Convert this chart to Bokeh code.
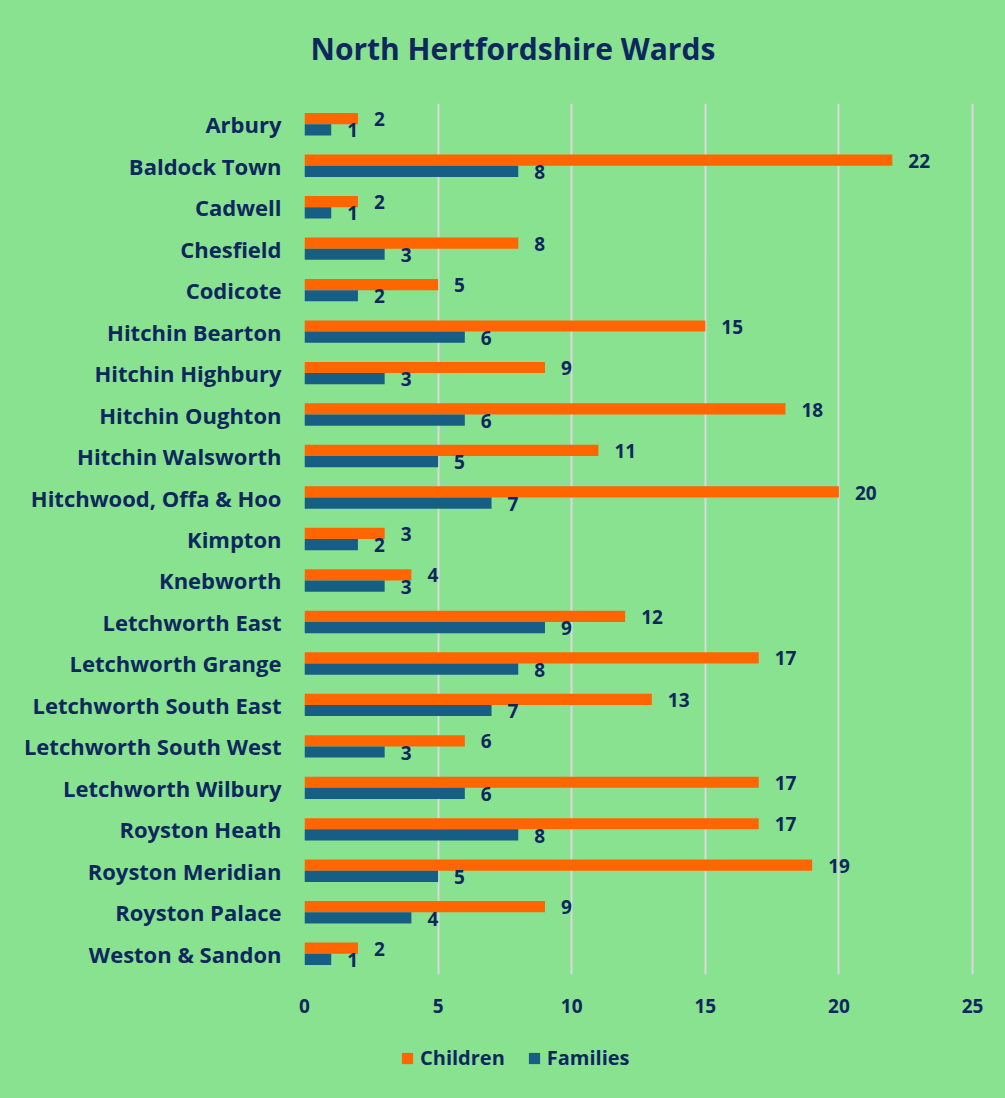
from bokeh.plotting import figure
from bokeh.layouts import column
from bokeh.models import ColumnDataSource, FactorRange, Range1d, Label, Legend, LegendItem, FixedTicker
from bokeh.transform import dodge
from bokeh.core.properties import value
from bokeh.embed import file_html
from bokeh.resources import INLINE

title_text = "North Hertfordshire Wards"
wards = ["Arbury", "Baldock Town", "Cadwell", "Chesfield", "Codicote",
         "Hitchin Bearton", "Hitchin Highbury", "Hitchin Oughton", "Hitchin Walsworth",
         "Hitchwood, Offa & Hoo", "Kimpton", "Knebworth", "Letchworth East",
         "Letchworth Grange", "Letchworth South East", "Letchworth South West",
         "Letchworth Wilbury", "Royston Heath", "Royston Meridian", "Royston Palace",
         "Weston & Sandon"]
children = [2, 22, 2, 8, 5, 15, 9, 18, 11, 20, 3, 4, 12, 17, 13, 6, 17, 17, 19, 9, 2]
families = [1, 8, 1, 3, 2, 6, 3, 6, 5, 7, 2, 3, 9, 8, 7, 3, 6, 8, 5, 4, 1]
x_ticks = [0, 5, 10, 15, 20, 25]
series = ["Children", "Families"]

BG = "#88e290"
NAVY = "#0e285e"
ORANGE = "#ff6600"
BLUE = "#175e85"
FONT = "Open Sans"

W = 1000
FL, FR = 304, 974          # frame left/right (pixels)
X_END = 25.075             # a little room so the last gridline is not clipped
H0, H1, H2 = 103, 927, 64   # title strip, chart, legend strip


def strip(h):
    f = figure(width=W, height=h, output_backend="svg", toolbar_location=None,
               x_axis_location=None, y_axis_location=None,
               min_border_left=FL, min_border_right=W - FR, min_border_top=0, min_border_bottom=0,
               x_range=Range1d(0, 1), y_range=Range1d(0, 1),
               background_fill_alpha=0, border_fill_alpha=0, outline_line_color=None)
    f.xgrid.visible = False
    f.ygrid.visible = False
    return f


# title strip
tf = strip(H0)
tf.add_layout(Label(x=6, y=H0 - 48, x_units="screen", y_units="screen", text=title_text,
                    text_color=NAVY, text_font=FONT, text_font_style="bold",
                    text_font_size="30px", text_baseline="middle", text_align="left"))

# main chart
src = ColumnDataSource(dict(ward=wards, children=children, families=families,
                            clab=[str(v) for v in children], flab=[str(v) for v in families]))

p = figure(width=W, height=H1, output_backend="svg", toolbar_location=None,
           y_range=FactorRange(factors=wards[::-1]), x_range=Range1d(0, X_END),
           min_border_left=FL, min_border_right=W - FR, min_border_top=0,
           min_border_bottom=H1 - 871,
           background_fill_alpha=0, border_fill_alpha=0, outline_line_color=None)

p.hbar(y=dodge("ward", 0.135, range=p.y_range), right="children", height=0.27,
       left=0, source=src, fill_color=ORANGE, line_color=None)
p.hbar(y=dodge("ward", -0.135, range=p.y_range), right="families", height=0.27,
       left=0, source=src, fill_color=BLUE, line_color=None)

p.text(x="children", y=dodge("ward", 0.12, range=p.y_range), text="clab", source=src,
       x_offset=16, text_align="left", text_baseline="middle", text_color=NAVY,
       text_font=value(FONT), text_font_style="bold", text_font_size="19px")
p.text(x="families", y=dodge("ward", -0.15, range=p.y_range), text="flab", source=src,
       x_offset=16, text_align="left", text_baseline="middle", text_color=NAVY,
       text_font=value(FONT), text_font_style="bold", text_font_size="19px")

p.xaxis.ticker = FixedTicker(ticks=x_ticks)
p.xgrid.ticker = FixedTicker(ticks=x_ticks)
p.xgrid.grid_line_color = "#d9d9d9"
p.xgrid.grid_line_width = 2
p.ygrid.grid_line_color = None

for ax in (p.xaxis[0], p.yaxis[0]):
    ax.axis_line_color = None
    ax.major_tick_line_color = None
    ax.minor_tick_line_color = None
    ax.major_label_text_color = NAVY
    ax.major_label_text_font = FONT
    ax.major_label_text_font_style = "bold"
p.xaxis.major_label_text_font_size = "19px"
p.xaxis.major_label_standoff = 18
p.yaxis.major_label_text_font_size = "22px"
p.yaxis.major_label_standoff = 17

# legend strip
lg = strip(H2)
dummy = ColumnDataSource(dict(x=[0], y=[-5]))
r1 = lg.hbar(y="y", right="x", left="x", height=0.1, source=dummy, fill_color=ORANGE, line_color=None)
r2 = lg.hbar(y="y", right="x", left="x", height=0.1, source=dummy, fill_color=BLUE, line_color=None)
legend = Legend(items=[LegendItem(label=series[0], renderers=[r1]),
                       LegendItem(label=series[1], renderers=[r2])],
                orientation="horizontal", location=(96, 23), padding=0, margin=0,
                background_fill_alpha=0, border_line_color=None,
                label_text_color=NAVY, label_text_font=FONT, label_text_font_style="bold",
                label_text_font_size="20px", glyph_width=14, glyph_height=14,
                spacing=22, label_standoff=6)
lg.add_layout(legend)

html = file_html(column(tf, p, lg, spacing=0), INLINE)
html = html.replace("</head>", "<style>html, body { background: %s; }</style></head>" % BG, 1)
open("out.html", "w").write(html)
